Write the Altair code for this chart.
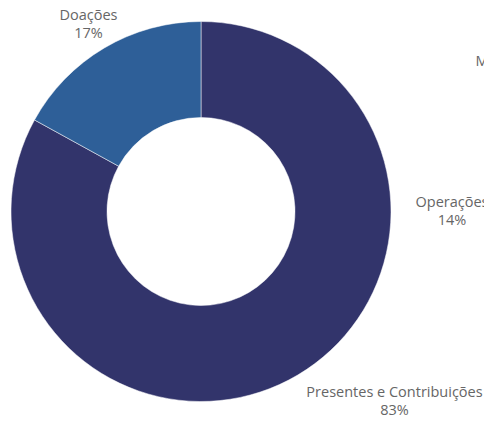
import altair as alt
import pandas as pd

# Donut shown in full: income sources (percent)
categories = ["Presentes e Contribuições", "Doações"]
shares = [83, 17]

# Neighbouring donut, only partly inside the picture (percent)
other_categories = ["Ministérios", "Operações", "Missões", "Administração"]
other_shares = [68, 14, 8, 10]

colors = ["#32346b", "#2e5f98"]

df = pd.DataFrame({"category": categories, "share": shares,
                   "idx": list(range(len(categories)))})
df["label"] = df["category"] + "\n" + df["share"].astype(str) + "%"

df2 = pd.DataFrame({"category": other_categories, "share": other_shares,
                    "idx": list(range(len(other_categories)))})
df2["label"] = df2["category"] + "\n" + df2["share"].astype(str) + "%"

W, H = 476, 410
CX, CY = 193, 203.5
CX2 = 665

theta_scale = alt.Scale(domain=[0, 100])


def stacked(chart):
    return chart.transform_window(
        s1="sum(share)", sort=[alt.SortField("idx")], frame=[None, 0]
    ).transform_calculate(
        s0="datum.s1 - datum.share", mid="datum.s1 - datum.share / 2"
    )


arcs = stacked(alt.Chart(df)).mark_arc(
    outerRadius=190, innerRadius=94, stroke="#ffffff", strokeWidth=0.5
).encode(
    theta=alt.Theta("s0:Q", scale=theta_scale),
    theta2="s1:Q",
    color=alt.Color("category:N", scale=alt.Scale(domain=categories, range=colors), legend=None),
    x=alt.value(CX),
    y=alt.value(CY),
)

text_style = dict(radius=221, font="Open Sans", fontSize=14.5, color="#666666",
                  lineBreak="\n", lineHeight=18, align="center", baseline="middle")

lab_left = stacked(alt.Chart(df)).transform_filter(
    alt.datum.category == "Doações"
).mark_text(dy=-5, **text_style).encode(
    theta=alt.Theta("mid:Q", scale=theta_scale, stack=False),
    text="label:N",
    x=alt.value(CX),
    y=alt.value(CY),
)

lab_right = stacked(alt.Chart(df)).transform_filter(
    alt.datum.category == "Presentes e Contribuições"
).mark_text(dx=81, dy=-9, **text_style).encode(
    theta=alt.Theta("mid:Q", scale=theta_scale, stack=False),
    text="label:N",
    x=alt.value(CX),
    y=alt.value(CY),
)

lab_other = stacked(alt.Chart(df2)).mark_text(dy=-9, **text_style).encode(
    theta=alt.Theta("mid:Q", scale=theta_scale, stack=False),
    text="label:N",
    x=alt.value(CX2),
    y=alt.value(CY),
)

chart = alt.layer(arcs, lab_left, lab_right, lab_other).properties(
    width=W, height=H, padding=0,
    autosize=alt.AutoSizeParams(type="none"),
).configure_view(strokeWidth=0)

chart.save("out.html", embed_options={"renderer": "svg", "actions": False})
